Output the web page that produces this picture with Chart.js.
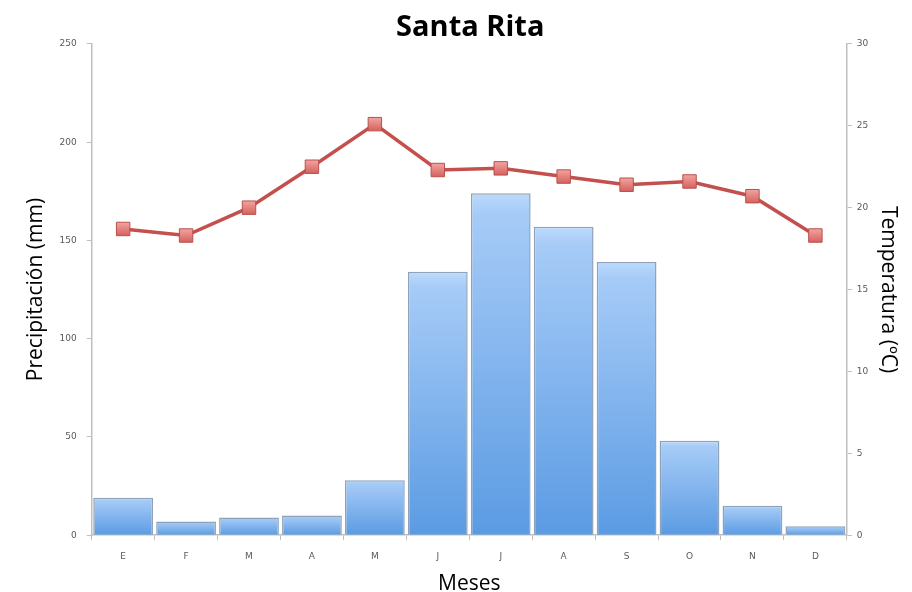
<!DOCTYPE html>
<html>
<head>
<meta charset="utf-8">
<script src="https://cdn.jsdelivr.net/npm/chart.js@4"></script>
<style>
  html, body { margin: 0; padding: 0; background: #ffffff; }
  #wrap { width: 912px; height: 592px; }
</style>
</head>
<body>
<div id="wrap"><canvas id="c" width="912" height="592"></canvas></div>
<script>
// Climograma de Santa Rita
const meses = ['E', 'F', 'M', 'A', 'M', 'J', 'J', 'A', 'S', 'O', 'N', 'D'];
const precipitacion = [19, 7, 9, 10, 28, 134, 174, 157, 139, 48, 15, 4.5];
const temperatura = [18.7, 18.3, 20.0, 22.5, 25.1, 22.3, 22.4, 21.9, 21.4, 21.6, 20.7, 18.3];
const ticksPrecip = [0, 50, 100, 150, 200, 250];
const ticksTemp = [0, 5, 10, 15, 20, 25, 30];

const axisGray = '#bfbfbf';
const tickFont = { family: 'DejaVu Sans', size: 9 };
const titleFont = { family: 'Open Sans', size: 21, lineHeight: 1 };

// Vertical gradient per bar: lighter at the top, deeper blue at the base
function barGradient(ctx) {
  const chart = ctx.chart;
  const area = chart.chartArea;
  if (!area || ctx.parsed == null) return '#7fb2ee';
  const y = chart.scales.yP;
  const top = y.getPixelForValue(ctx.parsed.y);
  const bottom = y.getPixelForValue(0);
  const g = chart.ctx.createLinearGradient(0, top, 0, Math.max(bottom, top + 1));
  g.addColorStop(0, '#bcdafc');
  g.addColorStop(0.06, '#a6cbf7');
  g.addColorStop(1, '#5b9be3');
  return g;
}

function markerGradient(ctx) {
  const chart = ctx.chart;
  if (!chart.chartArea || ctx.parsed == null) return '#e07a76';
  const y = chart.scales.yT.getPixelForValue(ctx.parsed.y);
  const g = chart.ctx.createLinearGradient(0, y - 7, 0, y + 7);
  g.addColorStop(0, '#f3a6a2');
  g.addColorStop(1, '#d4605c');
  return g;
}

new Chart(document.getElementById('c'), {
  data: {
    labels: meses,
    datasets: [
      {
        type: 'line',
        label: 'Temperatura',
        data: temperatura,
        yAxisID: 'yT',
        borderColor: '#c4504d',
        borderWidth: 3.5,
        pointStyle: 'rect',
        pointRadius: 9.5,
        pointHoverRadius: 9.5,
        pointBackgroundColor: markerGradient,
        pointBorderColor: '#b9504c',
        pointBorderWidth: 1,
        tension: 0,
        order: 0
      },
      {
        type: 'bar',
        label: 'Precipitación',
        data: precipitacion,
        yAxisID: 'yP',
        backgroundColor: barGradient,
        borderColor: '#8ea3ba',
        borderWidth: 1.5,
        barPercentage: 1,
        categoryPercentage: 0.95,
        order: 1
      }
    ]
  },
  options: {
    responsive: false,
    animation: false,
    devicePixelRatio: 1,
    layout: { padding: { left: 25.5, right: -3, top: 0, bottom: -3 } },
    plugins: {
      legend: { display: false },
      tooltip: { enabled: false },
      title: {
        display: true,
        text: 'Santa Rita',
        color: '#000000',
        font: { family: 'Open Sans', size: 29, weight: 'bold', lineHeight: 1.1 },
        padding: { top: 12, bottom: 0 }
      }
    },
    scales: {
      x: {
        offset: true,
        grid: { offset: true, drawOnChartArea: false, drawTicks: true, tickLength: 5, color: axisGray },
        border: { color: axisGray, width: 1.5 },
        ticks: { color: '#595959', font: tickFont, padding: 11, maxRotation: 0 },
        title: { display: true, text: 'Meses', color: '#000000', font: titleFont, padding: { top: 1, bottom: 0 } }
      },
      yP: {
        position: 'left',
        min: 0,
        max: 250,
        afterBuildTicks: (axis) => { axis.ticks = ticksPrecip.map(v => ({ value: v })); },
        grid: { drawOnChartArea: false, drawTicks: true, tickLength: 5, color: axisGray },
        border: { color: axisGray, width: 1.5 },
        ticks: { color: '#595959', font: tickFont, padding: 10 },
        title: { display: true, text: 'Precipitación (mm)', color: '#000000', font: titleFont, padding: { top: 0, bottom: 3 } }
      },
      yT: {
        position: 'right',
        min: 0,
        max: 30,
        afterBuildTicks: (axis) => { axis.ticks = ticksTemp.map(v => ({ value: v })); },
        grid: { drawOnChartArea: false, drawTicks: true, tickLength: 5, color: axisGray },
        border: { color: axisGray, width: 1.5 },
        ticks: { color: '#595959', font: tickFont, padding: 5 },
        title: { display: true, text: 'Temperatura (ºC)', color: '#000000', font: titleFont, padding: { top: 16.7, bottom: 4 } }
      }
    }
  }
});
</script>
</body>
</html>
